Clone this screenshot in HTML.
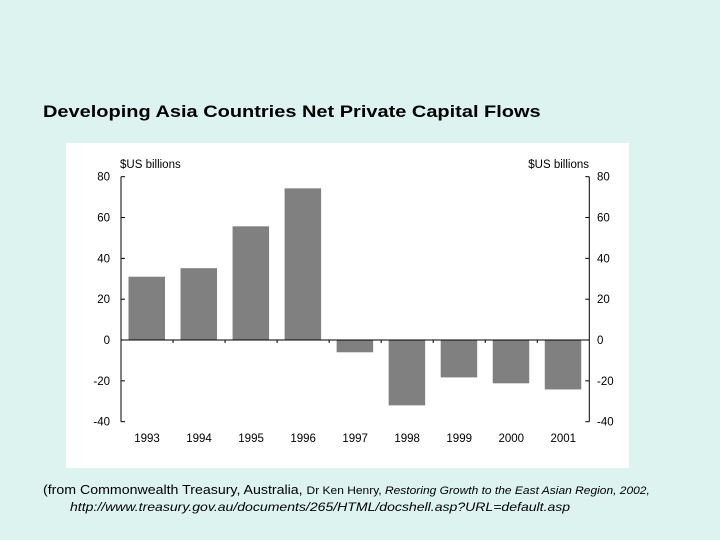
<!DOCTYPE html>
<html><head><meta charset="utf-8"><style>
html,body{margin:0;padding:0;}
body{width:720px;height:540px;background:#dcf3f0;position:relative;overflow:hidden;font-family:"Liberation Sans",Arial,sans-serif;}
#title{position:absolute;left:43px;top:102px;font-size:17px;font-weight:bold;color:#000;transform:scaleX(1.175);transform-origin:0 0;white-space:nowrap;}
#src1{position:absolute;left:43px;top:482px;font-size:13px;color:#000;white-space:nowrap;transform:scaleX(1.09);transform-origin:0 0;}
#src2{position:absolute;left:70px;top:500px;font-size:12px;font-style:italic;color:#000;white-space:nowrap;transform:scaleX(1.17);transform-origin:0 0;}
svg{position:absolute;left:0;top:0;}
</style></head><body>
<div id="title">Developing Asia Countries Net Private Capital Flows</div>
<svg id="chart" width="720" height="540">
<rect x="66" y="143" width="563" height="325" fill="#fff"/>
</svg>
<div id="src1">(from Commonwealth Treasury, Australia, <span style="font-size:11px">Dr Ken Henry, <i>Restoring Growth to the East Asian Region, 2002,</i></span></div>
<div id="src2">http://www.treasury.gov.au/documents/265/HTML/docshell.asp?URL=default.asp</div>
<script>
const categories=["1993","1994","1995","1996","1997","1998","1999","2000","2001"];
const values=[31,35.2,55.7,74.3,-6,-32,-18.3,-21.2,-24.2];
const ticks=[80,60,40,20,0,-20,-40];
const NS="http://www.w3.org/2000/svg";
const svg=document.getElementById('chart');
const L=121,R=589.3,yMax=80,yMin=-40,yTop=176.7,yBot=421.7;
const y=v=>yTop+(yMax-v)*(yBot-yTop)/(yMax-yMin);
const bw=(R-L)/categories.length;
const x=i=>L+i*bw;
function mk(t,a){const e=document.createElementNS(NS,t);for(const k in a)e.setAttribute(k,a[k]);svg.appendChild(e);return e;}
values.forEach((v,i)=>{
 const r=mk('rect',{x:x(i)+7.5,y:Math.min(y(v),y(0)),width:36.5,height:Math.abs(y(v)-y(0)),fill:'#808080'});
 
 
 const t=mk('text',{x:x(i)+bw/2,y:442,'text-anchor':'middle','font-size':'11.5',fill:'#000'});
 t.textContent=categories[i];
 
 
});
mk('line',{x1:L,y1:y(yMax),x2:L,y2:y(yMin),stroke:'#000'});
mk('line',{x1:R,y1:y(yMax),x2:R,y2:y(yMin),stroke:'#000'});
mk('line',{x1:L,y1:y(0),x2:R,y2:y(0),stroke:'#000'});
for(let i=1;i<categories.length;i++)mk('line',{x1:x(i),y1:y(0),x2:x(i),y2:y(0)+3,stroke:'#000'});
ticks.forEach(v=>{
 mk('line',{x1:L,y1:y(v),x2:L+4,y2:y(v),stroke:'#000'});
 mk('line',{x1:R-4,y1:y(v),x2:R,y2:y(v),stroke:'#000'});
 const a=mk('text',{x:110,y:y(v)+4,'text-anchor':'end','font-size':'11.5',fill:'#000'});a.textContent=v;
 
 
 const b=mk('text',{x:597,y:y(v)+4,'font-size':'11.5',fill:'#000'});b.textContent=v;
 
 
});
const u1=mk('text',{x:120,y:168,'font-size':'11.5',fill:'#000'});u1.textContent='$US billions';


const u2=mk('text',{x:589,y:168,'text-anchor':'end','font-size':'11.5',fill:'#000'});u2.textContent='$US billions';


</script>
</body></html>
